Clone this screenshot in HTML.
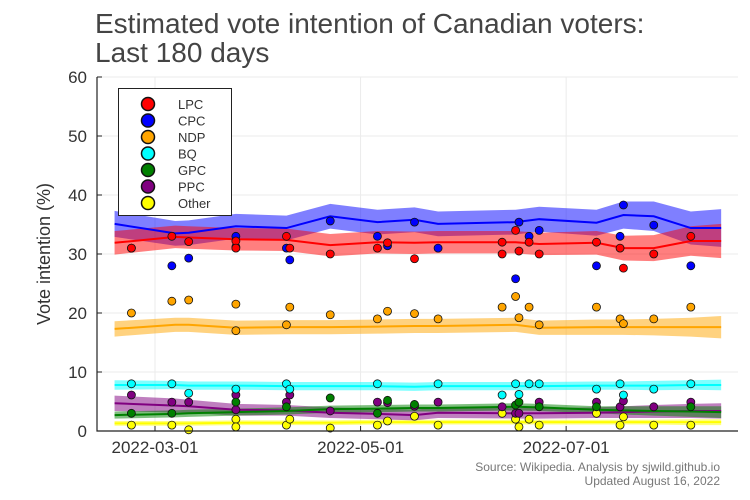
<!DOCTYPE html>
<html><head><meta charset="utf-8"><style>
body{margin:0;background:#fff;}
svg{display:block;font-family:"Liberation Sans",sans-serif;}
</style></head><body>
<svg id="chart" width="750" height="500">
<text x="95" y="33" font-size="28" fill="#444">Estimated vote intention of Canadian voters:</text>
<text x="95" y="62" font-size="28" fill="#444">Last 180 days</text>
<text transform="translate(50,254) rotate(-90)" text-anchor="middle" font-size="18" fill="#333">Vote intention (%)</text>
<text x="720" y="471" text-anchor="end" font-size="12" fill="#777">Source: Wikipedia. Analysis by sjwild.github.io</text>
<text x="720" y="485" text-anchor="end" font-size="12" fill="#777">Updated August 16, 2022</text>
<g id="grid"></g><g id="bands"></g><g id="lines"></g><g id="pts"></g><g id="axes"></g><g id="legend"></g>
</svg>
<script>
// days since 2022-03-01
const yTicks=[0,10,20,30,40,50,60];
const xTickDays=[0,61,122];
const xTickLabels=["2022-03-01","2022-05-01","2022-07-01"];
const parties=["LPC","CPC","NDP","BQ","GPC","PPC","Other"];
const colors=["#ff0000","#0000ff","#ffa500","#00ffff","#008000","#800080","#ffff00"];
const trendDays=[-12,6,10,24,39,52,66,77,84,107,114,131,139,148,159,168];
const trendLPC=[31.9,32.9,32.8,32.5,32.4,31.5,32,31.9,32,32,31.7,31.9,31,31,32.2,32.2];
const trendCPC=[35.1,33.5,33.6,34.7,34.4,36.4,35.4,35.8,35.1,35.4,35.9,35.3,36.6,36.4,34.4,34.4];
const trendNDP=[17.3,18,18,17.5,17.6,17.6,17.7,17.8,17.8,18,17.5,17.6,17.6,17.6,17.6,17.6];
const trendBQ=[7.8,7.8,7.7,7.7,7.6,7.6,7.6,7.5,7.6,7.6,7.6,7.7,7.7,7.7,7.8,7.8];
const trendGPC=[2.7,2.9,3,3.2,3.4,3.7,3.8,3.9,3.9,4.1,4,3.6,3.5,3.4,3.3,3.2];
const trendPPC=[4.7,4.3,4.2,3.6,3.5,3.1,2.9,2.7,3.1,3,3,3.1,3.2,3.3,3.4,3.4];
const trendOTH=[1.3,1.3,1.3,1.4,1.4,1.4,1.5,1.5,1.5,1.5,1.5,1.5,1.5,1.5,1.5,1.5];
const moeLPC=[2,1.9,1.9,1.9,1.9,1.9,1.9,1.9,1.9,1.9,1.9,2,2.1,2.2,2.5,2.9];
const moeCPC=[2.2,2.1,2.1,2.1,2.1,2.1,2.1,2.1,2.1,2.1,2.1,2.2,2.3,2.5,2.8,3.2];
const moeNDP=[1.3,1.2,1.2,1.2,1.2,1.2,1.2,1.2,1.2,1.2,1.2,1.3,1.3,1.4,1.6,1.9];
const moeBQ=[0.8,0.7,0.7,0.7,0.7,0.7,0.7,0.7,0.7,0.7,0.7,0.7,0.7,0.8,0.8,0.9];
const moeGPC=[0.6,0.6,0.6,0.6,0.6,0.6,0.6,0.6,0.6,0.6,0.6,0.6,0.7,0.8,0.9,1];
const moePPC=[1.3,1.2,1.1,1,0.9,0.9,0.9,0.9,0.9,0.9,0.9,0.9,1,1.1,1.2,1.3];
const moeOTH=[0.4,0.4,0.4,0.4,0.4,0.4,0.4,0.4,0.4,0.4,0.4,0.4,0.4,0.4,0.5,0.5];
const pollDays=[-7,5,10,24,24,39,40,52,66,69,77,84,103,103,107,108,111,114,131,138,139,148,159];
const pollLPC=[31,33,32.1,32.2,31,33,31,30,31,31.9,29.2,null,32,30,34,30.5,32,30,32,31,27.6,30,33];
const pollCPC=[31,28,29.3,33,31.2,31,29,35.6,33,31.4,35.4,31,null,null,25.8,35.4,33,34,28,33,38.3,34.9,28];
const pollNDP=[20,22,22.2,21.5,17,18,21,19.7,19,20.3,19.9,19,21,null,22.8,19.2,21,18,21,19,18.2,19,21];
const pollBQ=[8,8,6.4,7.1,null,8,7.1,null,8,null,null,8,6.1,null,8,6.2,8,8,7.1,8,6.1,7.1,8];
const pollGPC=[3,3,null,4.9,null,4.1,null,5.6,3,5.2,4.5,null,null,null,4.4,4.9,null,4.1,4.1,null,null,null,4.1];
const pollPPC=[6.1,4.9,4.9,6.1,3.6,4.9,6.1,3.4,4.9,4.8,4.2,4.9,4.1,null,3,3,null,4.9,4.9,4.1,5.1,4.1,4.9];
const pollOTH=[1,1,0.2,2,0.7,1,2,0.5,1,1.7,2.5,1,3,null,2,0.7,2,1,3,1,2.4,1,1];

const trends=[trendLPC,trendCPC,trendNDP,trendBQ,trendGPC,trendPPC,trendOTH];
const moes=[moeLPC,moeCPC,moeNDP,moeBQ,moeGPC,moePPC,moeOTH];
const polls=[pollLPC,pollCPC,pollNDP,pollBQ,pollGPC,pollPPC,pollOTH];
const X0=97,X1=738,Y0=431,Y1=77;
const xs=d=>155+d*3.37;
const ys=v=>Y0-(v/60)*(Y0-Y1);
const NS="http://www.w3.org/2000/svg";
function mk(tag,attrs,parent){const e=document.createElementNS(NS,tag);for(const k in attrs)e.setAttribute(k,attrs[k]);parent.appendChild(e);return e;}
const grid=document.getElementById('grid'),axes=document.getElementById('axes');
yTicks.forEach(t=>{
  const l=mk('line',{x1:X0,x2:X1,y1:ys(t),y2:ys(t),stroke:'#ebebeb','stroke-width':1},grid);
  
  
  const tx=mk('text',{x:87,y:ys(t)+6,'text-anchor':'end','font-size':17,fill:'#333'},axes);
  tx.textContent=t;
  
  
  mk('line',{x1:X0,x2:X0+5,y1:ys(t),y2:ys(t),stroke:'#222'},axes);
});
xTickDays.forEach((d,i)=>{
  const l=mk('line',{x1:xs(d),x2:xs(d),y1:Y1,y2:Y0,stroke:'#ebebeb'},grid);
  
  
  mk('line',{x1:xs(d),x2:xs(d),y1:Y0,y2:Y0-5,stroke:'#222'},axes);
  const tx=mk('text',{x:xs(d),y:453,'text-anchor':'middle','font-size':17,fill:'#333'},axes);
  tx.textContent=xTickLabels[i];
  
  
});
const ax=mk('path',{d:`M${X0},${Y1}V${Y0}H${X1}`,fill:'none',stroke:'#222','stroke-width':1.2},axes);


const bands=document.getElementById('bands'),lines=document.getElementById('lines'),pts=document.getElementById('pts');
for(let p=parties.length-1;p>=0;p--){
  const tr=trends[p],m=moes[p];
  let up=trendDays.map((d,i)=>`${xs(d)},${ys(tr[i]+m[i])}`);
  let lo=trendDays.map((d,i)=>`${xs(d)},${ys(tr[i]-m[i])}`).reverse();
  const b=mk('polygon',{points:up.concat(lo).join(' '),fill:colors[p],'fill-opacity':0.5,stroke:'none'},bands);
  
  
  const l=mk('polyline',{points:trendDays.map((d,i)=>`${xs(d)},${ys(tr[i])}`).join(' '),fill:'none',stroke:colors[p],'stroke-width':2},lines);
  
  
}
for(let p=parties.length-1;p>=0;p--){
  polls[p].forEach((v,i)=>{
    if(v===null)return;
    const c=mk('circle',{cx:xs(pollDays[i]),cy:ys(v),r:4,fill:colors[p],stroke:'#111','stroke-width':0.8},pts);
    
    
  });
}
const lg=document.getElementById('legend');
const box=mk('rect',{x:118.5,y:88.5,width:113,height:127,fill:'#fff',stroke:'#222'},lg);


parties.forEach((p,i)=>{
  const y=104+i*16.5;
  const c=mk('circle',{cx:148,cy:y,r:6.5,fill:colors[i],stroke:'#111','stroke-width':1.5},lg);
  
  
  const t=mk('text',{x:178,y:y+5,'font-size':13,fill:'#333'},lg);
  t.textContent=p;
  
  
});
</script>
</body></html>
